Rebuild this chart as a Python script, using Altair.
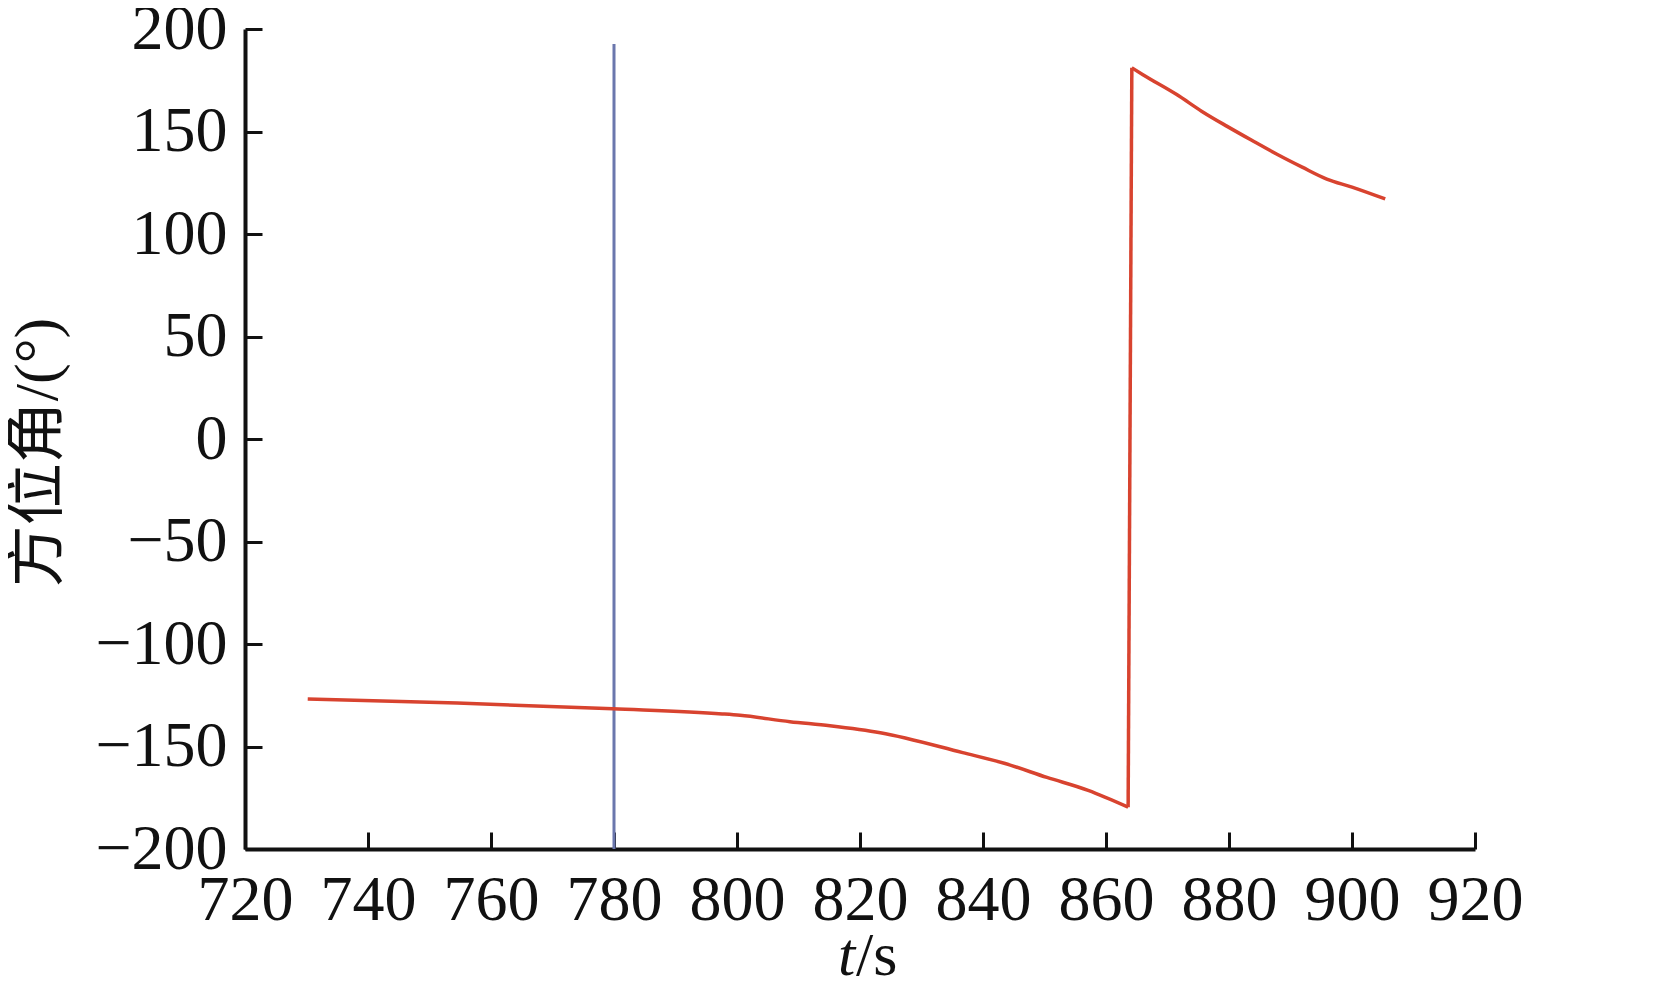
import altair as alt
import pandas as pd

# red curve: time (s) and azimuth (deg)
t_vals = [730.2, 754.5, 779.8, 797.6, 800.5, 808.6, 815.1, 823.3, 836.7, 843.6,
          850.4, 857.1, 863.6, 864.2, 866.0, 871.5, 875.6, 879.7, 883.7, 887.8,
          891.9, 895.9, 900.0, 905.4]
az_vals = [-126.8, -128.8, -131.6, -134.1, -134.8, -137.9, -139.9, -143.3, -153.0, -158.3,
           -165.1, -171.4, -179.6, 181.1, 177.7, 168.0, 159.8, 152.5, 145.7, 138.9,
           132.6, 126.8, 122.9, 117.1]
# which piece of the curve each point belongs to (before / after the wrap)
seg_vals = ["a"] * 13 + ["b"] * 11

# blue vertical marker
marker_t = [780]
marker_low = [-200]
marker_high = [192.7]

x_ticks = [720, 740, 760, 780, 800, 820, 840, 860, 880, 900, 920]
y_ticks = [-200, -150, -100, -50, 0, 50, 100, 150, 200]

W, H = 1230, 820
LATIN = "Liberation Serif"
CJK = "Liberation Serif, Noto Sans CJK SC"

rows = []
for i, (t, a, s) in enumerate(zip(t_vals, az_vals, seg_vals)):
    rows.append({"i": i, "t": t, "az": a, "seg": s})
# the wrap-around jump joins the last point of piece a to the first of piece b
ia = seg_vals.index("b") - 1
rows.append({"i": 100, "t": t_vals[ia], "az": az_vals[ia], "seg": "jump"})
rows.append({"i": 101, "t": t_vals[ia + 1], "az": az_vals[ia + 1], "seg": "jump"})
curve = pd.DataFrame(rows)
marker = pd.DataFrame({"t": marker_t, "lo": marker_low, "hi": marker_high})

xscale = alt.Scale(domain=[720, 920], nice=False, zero=False)
yscale = alt.Scale(domain=[-200, 200], nice=False, zero=False)

xaxis = alt.Axis(values=x_ticks, title=None, labelFont=LATIN, labelFontSize=64,
                 labelColor="#111", labelFlush=False, labelPadding=36,
                 tickSize={"expr": "-17"}, tickWidth=3, tickColor="#111",
                 domainWidth=4, domainColor="#111", grid=False, labelOverlap=False,
                 labelExpr="replace(datum.label, '-', '\u2212')")
yaxis = alt.Axis(values=y_ticks, title="方位角/(°)", labelFont=LATIN, labelFontSize=64,
                 labelColor="#111", labelPadding=35, labelOverlap=False,
                 tickSize={"expr": "-17"}, tickWidth=3, tickColor="#111",
                 domainWidth=4, domainColor="#111", grid=False,
                 labelExpr="replace(datum.label, '-', '\u2212')",
                 titleFont=CJK, titleFontSize=62, titleFontWeight="normal",
                 titleColor="#111", titleAngle=270, titleAlign="center",
                 titleBaseline="middle", titleX=-208, titleY=423)

line = alt.Chart(curve).mark_line(color="#d8432f", strokeWidth=3.5,
                                  interpolate="monotone").encode(
    x=alt.X("t:Q", scale=xscale, axis=xaxis),
    y=alt.Y("az:Q", scale=yscale, axis=yaxis),
    detail="seg:N",
    order="i:Q",
)

rule = alt.Chart(marker).mark_rule(color="#6b77ad", strokeWidth=3).encode(
    x="t:Q", y="lo:Q", y2="hi:Q"
)

t_label = alt.Chart(pd.DataFrame({"s": ["t"]})).mark_text(
    font=LATIN, fontSize=62, fontStyle="italic", align="left", baseline="alphabetic",
    color="#111"
).encode(text="s:N", x=alt.value(593), y=alt.value(946))

s_label = alt.Chart(pd.DataFrame({"s": ["/s"]})).mark_text(
    font=LATIN, fontSize=62, align="left", baseline="alphabetic", color="#111"
).encode(text="s:N", x=alt.value(611), y=alt.value(946))

chart = alt.layer(rule, line, t_label, s_label).properties(
    width=W, height=H,
    autosize=alt.AutoSizeParams(type="none"),
    padding={"left": 237, "top": 21, "right": 171, "bottom": 133},
).configure(background="white", view=alt.ViewConfig(strokeWidth=0, stroke="transparent"))

chart.save("out.html", embed_options={"renderer": "svg", "actions": False})
